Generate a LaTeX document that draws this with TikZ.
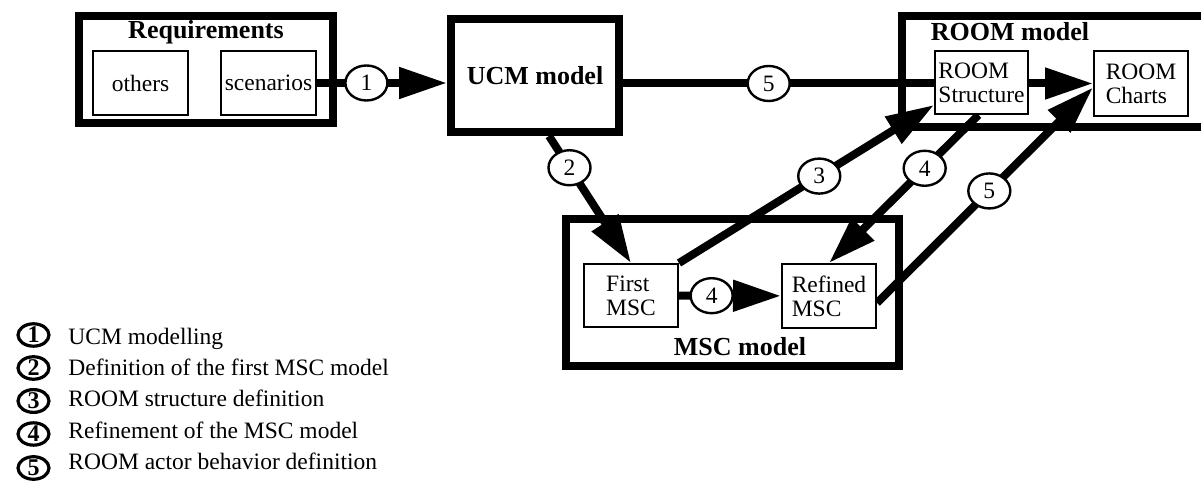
\documentclass[tikz,border=0pt]{standalone}
\usepackage{fontspec}
\setmainfont{Liberation Serif}
\usetikzlibrary{arrows.meta,positioning,shapes.geometric,calc,backgrounds}

\begin{document}
\begin{tikzpicture}[x=0.5pt,y=-0.5pt,>={Triangle[length=24pt,width=15pt]},
                    font=\fontsize{11.75}{12}\selectfont]
	\tikzstyle{model}=[draw,line width=4pt,inner sep=0pt]
	\tikzstyle{part}=[draw,fill=white,line width=1pt,inner sep=0pt,align=left]
	\tikzstyle{title}=[inner sep=0pt,font=\fontsize{13}{14}\selectfont\bfseries]
	\tikzstyle{stage}=[ellipse,draw,fill=white,line width=1.2pt,inner sep=0pt,
	                   minimum width=21pt,minimum height=17.5pt]
	\tikzstyle{keycirc}=[ellipse,draw,line width=1.6pt,inner sep=0pt,
	                     minimum width=15.5pt,minimum height=11pt,font=\fontsize{12}{12}\selectfont\bfseries]
	\tikzstyle{keytext}=[inner sep=0pt,anchor=base west]
	\tikzstyle{flow}=[->,line width=4pt]

	\useasboundingbox (0,0) rectangle (1201,485);
	\clip (0,0) rectangle (1201,485);

	% models
	\node[model,minimum width=127pt,minimum height=53.5pt]	(Req)	at (206,69.5)	{};
	\node[title]	(ReqT)	at (206,32)	{Requirements};
	\node[part,minimum width=47.5pt,minimum height=32pt]	(Oth)	at (140.5,83)	{others};
	\node[part,minimum width=47.5pt,minimum height=32pt]	(Scen)	at (268.5,83)	{scenarios};

	\node[model,title,minimum width=84pt,minimum height=56.5pt]	(UCM)	at (535,75.5)	{UCM model};

	\node[model,minimum width=179pt,minimum height=55.5pt]	(Room)	at (1081,71.5)	{};
	\node[title]	(RoomT)	at (1010,32)	{ROOM model};
	\node[part,minimum width=46.5pt,minimum height=31.5pt]	(Struct)	at (981.5,82.5)	{ROOM\\Structure};
	\node[part,minimum width=47pt,minimum height=32.5pt]	(Charts)	at (1141,83.5)	{ROOM\\Charts};

	\node[model,minimum width=166.5pt,minimum height=73.5pt]	(MSC)	at (732.5,292.5)	{};
	\node[title]	(MSCT)	at (740,347)	{MSC model};
	\node[part,minimum width=47pt,minimum height=31.5pt]	(First)	at (631,295.5)	{First\\MSC};
	\node[part,minimum width=47pt,minimum height=32pt]	(Refined)	at (829,296)	{Refined\\MSC};

	% steps
	\begin{pgfonlayer}{background}
	\path[flow] (Scen)	edge	node[stage,pos=.38]	{1}	(UCM.west |- Scen.east)
		(UCM.east |- Charts.west)	edge	node[stage,pos=.31]	{5}	(Charts.west)
		($(UCM.south)+(14,0)$)	edge	node[stage,pos=.25]	{2}	(First.north)
		(First.north east)	edge	node[stage,pos=.55]	{3}	($(Struct.south west)+(0,-10)$)
		($(Struct.south)+(-3,0)$)	edge	node[stage,pos=.36]	{4}	(Refined.north)
		(First)	edge	node[stage,pos=.32]	{4}	(Refined)
		($(Refined.east)+(0,7)$)	edge	node[stage,pos=.52]	{5}	($(Charts.west)+(0,4)$);
	\end{pgfonlayer}

	% legend
	\node[keycirc]	(k1)	at (33.5,335)	{1};
	\node[keycirc]	(k2)	at (33.5,368)	{2};
	\node[keycirc]	(k3)	at (33.5,401)	{3};
	\node[keycirc]	(k4)	at (33.5,434)	{4};
	\node[keycirc]	(k5)	at (33.5,468)	{5};
	\node[keytext]	(t1)	at (68,344.5)	{UCM modelling};
	\node[keytext]	(t2)	at (68,376)	{Definition of the first MSC model};
	\node[keytext]	(t3)	at (68,407)	{ROOM structure definition};
	\node[keytext]	(t4)	at (68,438.5)	{Refinement of the MSC model};
	\node[keytext]	(t5)	at (68,470)	{ROOM actor behavior definition};
\end{tikzpicture}
\end{document}
